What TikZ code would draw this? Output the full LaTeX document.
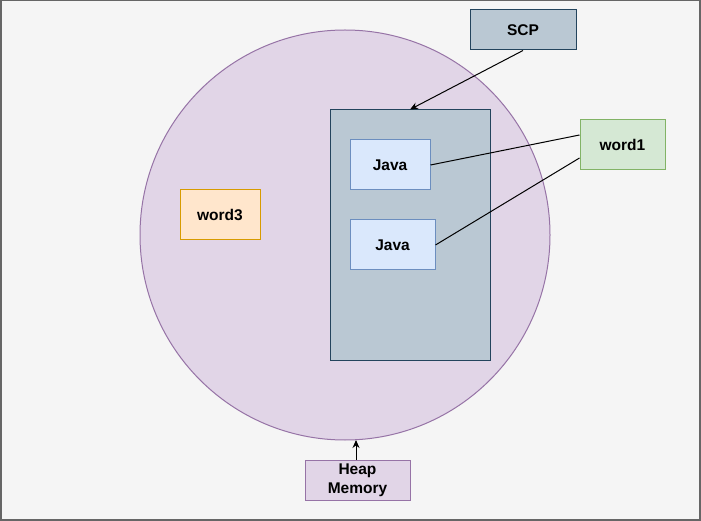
\documentclass[tikz,border=0pt]{standalone}
\usepackage{fontspec}
\setmainfont{Liberation Sans}
\usetikzlibrary{arrows.meta,calc}
\definecolor{bgfill}{HTML}{F5F5F5}
\definecolor{bgline}{HTML}{666666}
\definecolor{purfill}{HTML}{E1D5E7}
\definecolor{purline}{HTML}{9673A6}
\definecolor{grfill}{HTML}{BAC8D3}
\definecolor{grline}{HTML}{23445D}
\definecolor{blfill}{HTML}{DAE8FC}
\definecolor{blline}{HTML}{6C8EBF}
\definecolor{gnfill}{HTML}{D5E8D4}
\definecolor{gnline}{HTML}{82B366}
\definecolor{orfill}{HTML}{FFE6CC}
\definecolor{orline}{HTML}{D79B00}
\tikzset{
  box/.style={draw, rectangle, line width=1pt, inner sep=0pt, align=center,
    font=\fontsize{15.5}{19}\selectfont\bfseries},
  purbox/.style={box, fill=purfill, draw=purline},
  grbox/.style={box, fill=grfill, draw=grline},
  blbox/.style={box, fill=blfill, draw=blline},
  gnbox/.style={box, fill=gnfill, draw=gnline},
  orbox/.style={box, fill=orfill, draw=orline},
  conn/.style={draw=black, line width=1pt},
  arr/.style={conn, -{Stealth[length=8pt,width=7pt]}}
}
\begin{document}
\begin{tikzpicture}[x=1pt,y=-1pt]
\useasboundingbox (0,0) rectangle (701,521);
\draw[fill=bgfill, draw=bgline, line width=1.5pt] (0.75,0.75) rectangle (700,520);
\node[circle, draw=purline, fill=purfill, line width=1pt, minimum size=410pt, inner sep=0pt] (heapcircle) at (345,235) {};
\node[grbox, minimum width=160pt, minimum height=250pt] (container) at (410,235) {};
\node[grbox, minimum width=106pt, minimum height=40pt] (scp) at (523,30) {SCP};
\node[blbox, minimum width=80pt, minimum height=50pt] (java1) at (390,165) {Java};
\node[blbox, minimum width=85pt, minimum height=50pt] (java2) at (392.5,245) {Java};
\node[gnbox, minimum width=85pt, minimum height=50pt] (word1) at (622.5,145) {word1};
\node[orbox, minimum width=80pt, minimum height=50pt] (word3) at (220,215) {word3};
\node[purbox, minimum width=105pt, minimum height=40pt] (heap) at (357.5,480) {Heap\\Memory};
\draw[arr] (scp.south) -- (container.north);
\draw[conn] (java1.east) -- ($(word1.west)+(0,-10)$);
\draw[conn] (java2.east) -- ($(word1.west)+(0,13)$);
\coordinate (circbottom) at (356,440);
\draw[arr] ([xshift=-1.5pt]heap.north) -- (circbottom);
\end{tikzpicture}
\end{document}
